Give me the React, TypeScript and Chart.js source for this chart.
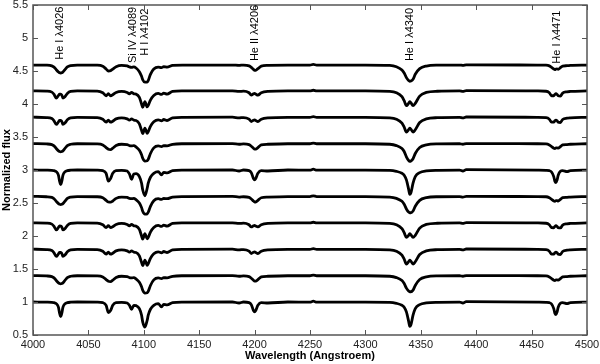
import React, { useEffect, useRef } from "react";
import { Chart, registerables } from "chart.js";

Chart.register(...registerables);

// Wavelength grid (Angstroem)
const wavelengths = [
  4000, 4012, 4017, 4019, 4021, 4023, 4024, 4025, 4026, 4027, 4029, 4031, 4034, 4040,
  4058, 4063, 4066, 4068, 4070, 4072, 4075, 4080,
  4085, 4087, 4089, 4091, 4093, 4096, 4098, 4099, 4101, 4103, 4104, 4106, 4109, 4113, 4116, 4118, 4121, 4126, 4135,
  4180, 4186, 4190, 4195, 4197, 4199, 4200, 4201, 4203, 4206, 4212, 4230,
  4250, 4253, 4256, 4300,
  4322, 4328, 4333, 4335, 4337, 4339, 4340, 4341, 4343, 4345, 4349, 4355, 4365,
  4385, 4388, 4391, 4455,
  4463, 4466, 4468, 4470, 4471, 4472, 4473, 4474, 4476, 4478, 4482, 4485, 4500,
];

// Vertical offsets of the ten spectra (bottom to top)
const offsets = [0, 0.4, 0.8, 1.2, 1.6, 2.0, 2.4, 2.8, 3.2, 3.6];

// Normalized flux of each spectrum on the grid above
const flux1 = [
  1, 0.997, 0.995, 0.99, 0.975, 0.92, 0.83, 0.78, 0.83, 0.92, 0.975, 0.99, 0.997, 1,
  0.998, 0.99, 0.95, 0.84, 0.87, 0.95, 0.99, 0.995,
  0.985, 0.95, 0.89, 0.95, 0.945, 0.9, 0.8, 0.7, 0.62, 0.72, 0.8, 0.89, 0.95, 0.975, 0.925, 0.965, 0.955, 0.99, 0.998,
  1, 0.985, 1, 0.99, 0.96, 0.87, 0.85, 0.87, 0.95, 0.99, 0.985, 1,
  0.998, 1.012, 0.998, 0.998,
  0.995, 0.98, 0.95, 0.92, 0.85, 0.71, 0.63, 0.65, 0.8, 0.9, 0.96, 0.985, 0.995,
  0.998, 0.985, 1.005, 0.998,
  0.995, 0.99, 0.97, 0.9, 0.83, 0.81, 0.85, 0.92, 0.98, 0.99, 0.975, 0.99, 0.998,
];
const flux2 = [
  1, 0.995, 0.985, 0.965, 0.925, 0.89, 0.88, 0.875, 0.88, 0.89, 0.93, 0.97, 0.99, 0.998,
  0.995, 0.98, 0.94, 0.915, 0.91, 0.93, 0.97, 0.99,
  0.985, 0.97, 0.965, 0.97, 0.95, 0.9, 0.83, 0.78, 0.735, 0.74, 0.76, 0.85, 0.935, 0.965, 0.955, 0.97, 0.965, 0.99, 0.998,
  1, 0.99, 0.995, 0.985, 0.96, 0.93, 0.915, 0.915, 0.94, 0.98, 0.99, 0.998,
  0.998, 1.008, 0.998, 0.998,
  0.99, 0.97, 0.925, 0.88, 0.81, 0.765, 0.755, 0.755, 0.78, 0.85, 0.94, 0.98, 0.995,
  0.998, 0.99, 1, 0.998,
  0.995, 0.98, 0.955, 0.93, 0.925, 0.935, 0.935, 0.93, 0.955, 0.98, 0.985, 0.99, 0.998,
];
const flux3 = [
  1, 0.995, 0.98, 0.945, 0.89, 0.93, 0.95, 0.95, 0.935, 0.89, 0.915, 0.96, 0.99, 0.998,
  0.995, 0.97, 0.925, 0.955, 0.925, 0.94, 0.975, 0.99,
  0.975, 0.955, 0.975, 0.955, 0.95, 0.9, 0.8, 0.75, 0.835, 0.755, 0.78, 0.86, 0.93, 0.96, 0.945, 0.965, 0.95, 0.99, 0.998,
  1, 0.99, 0.995, 0.97, 0.935, 0.955, 0.96, 0.95, 0.935, 0.97, 0.99, 0.998,
  0.998, 1.008, 0.998, 0.998,
  0.99, 0.97, 0.91, 0.85, 0.775, 0.81, 0.835, 0.82, 0.775, 0.81, 0.92, 0.975, 0.993,
  0.998, 0.99, 1.003, 0.998,
  0.993, 0.97, 0.925, 0.925, 0.945, 0.955, 0.945, 0.925, 0.92, 0.965, 0.985, 0.99, 0.998,
];
const flux4 = [
  1, 0.995, 0.98, 0.945, 0.892, 0.93, 0.952, 0.95, 0.935, 0.892, 0.915, 0.96, 0.99, 0.998,
  0.995, 0.97, 0.928, 0.955, 0.928, 0.94, 0.975, 0.99,
  0.975, 0.955, 0.975, 0.955, 0.95, 0.9, 0.8, 0.752, 0.835, 0.758, 0.78, 0.86, 0.93, 0.96, 0.945, 0.965, 0.95, 0.99, 0.998,
  1, 0.99, 0.995, 0.97, 0.937, 0.955, 0.96, 0.95, 0.937, 0.97, 0.99, 0.998,
  0.998, 1.008, 0.998, 0.998,
  0.99, 0.97, 0.91, 0.85, 0.778, 0.81, 0.835, 0.82, 0.778, 0.81, 0.92, 0.975, 0.993,
  0.998, 0.99, 1.003, 0.998,
  0.993, 0.97, 0.927, 0.925, 0.945, 0.955, 0.945, 0.925, 0.922, 0.965, 0.985, 0.99, 0.998,
];
const flux5 = [
  1, 0.995, 0.985, 0.965, 0.925, 0.89, 0.88, 0.875, 0.88, 0.89, 0.93, 0.97, 0.99, 0.998,
  0.995, 0.98, 0.94, 0.915, 0.912, 0.93, 0.97, 0.99,
  0.985, 0.97, 0.965, 0.97, 0.95, 0.9, 0.83, 0.775, 0.73, 0.735, 0.76, 0.85, 0.935, 0.965, 0.955, 0.97, 0.965, 0.99, 0.998,
  1, 0.99, 0.995, 0.985, 0.96, 0.93, 0.915, 0.915, 0.94, 0.98, 0.99, 0.998,
  0.998, 1.008, 0.998, 0.998,
  0.99, 0.97, 0.925, 0.88, 0.81, 0.762, 0.752, 0.752, 0.78, 0.85, 0.94, 0.98, 0.995,
  0.998, 0.99, 1, 0.998,
  0.995, 0.98, 0.955, 0.93, 0.925, 0.935, 0.935, 0.93, 0.955, 0.98, 0.985, 0.99, 0.998,
];
const flux6 = [
  1, 0.997, 0.995, 0.99, 0.975, 0.92, 0.83, 0.78, 0.83, 0.92, 0.975, 0.99, 0.997, 1,
  0.998, 0.99, 0.95, 0.83, 0.87, 0.95, 0.99, 0.995,
  0.985, 0.94, 0.86, 0.94, 0.945, 0.9, 0.8, 0.7, 0.61, 0.72, 0.8, 0.89, 0.95, 0.975, 0.925, 0.965, 0.955, 0.99, 0.998,
  1, 0.985, 1, 0.99, 0.96, 0.87, 0.85, 0.87, 0.95, 0.99, 0.985, 1,
  0.998, 1.012, 0.998, 0.998,
  0.995, 0.98, 0.95, 0.92, 0.85, 0.71, 0.63, 0.65, 0.8, 0.9, 0.96, 0.985, 0.995,
  0.998, 0.985, 1.005, 0.998,
  0.995, 0.99, 0.97, 0.9, 0.83, 0.81, 0.85, 0.92, 0.98, 0.99, 0.975, 0.99, 0.998,
];
const flux7 = [
  1, 0.995, 0.985, 0.965, 0.925, 0.89, 0.88, 0.875, 0.88, 0.89, 0.93, 0.97, 0.99, 0.998,
  0.995, 0.98, 0.94, 0.915, 0.91, 0.93, 0.97, 0.99,
  0.985, 0.97, 0.965, 0.97, 0.95, 0.9, 0.83, 0.78, 0.735, 0.74, 0.76, 0.85, 0.935, 0.965, 0.955, 0.97, 0.965, 0.99, 0.998,
  1, 0.99, 0.995, 0.985, 0.96, 0.93, 0.915, 0.915, 0.94, 0.98, 0.99, 0.998,
  0.998, 1.008, 0.998, 0.998,
  0.99, 0.97, 0.925, 0.88, 0.8, 0.745, 0.73, 0.735, 0.77, 0.85, 0.94, 0.98, 0.995,
  0.998, 0.99, 1, 0.998,
  0.995, 0.98, 0.955, 0.93, 0.925, 0.935, 0.935, 0.93, 0.955, 0.98, 0.985, 0.99, 0.998,
];
const flux8 = [
  1, 0.995, 0.98, 0.945, 0.89, 0.93, 0.95, 0.95, 0.935, 0.89, 0.915, 0.96, 0.99, 0.998,
  0.995, 0.97, 0.925, 0.955, 0.925, 0.94, 0.975, 0.99,
  0.975, 0.955, 0.975, 0.955, 0.95, 0.9, 0.8, 0.75, 0.835, 0.755, 0.78, 0.86, 0.93, 0.96, 0.945, 0.965, 0.95, 0.99, 0.998,
  1, 0.99, 0.995, 0.97, 0.935, 0.955, 0.96, 0.95, 0.935, 0.97, 0.99, 0.998,
  0.998, 1.008, 0.998, 0.998,
  0.99, 0.97, 0.91, 0.85, 0.775, 0.81, 0.835, 0.82, 0.775, 0.81, 0.92, 0.975, 0.993,
  0.998, 0.99, 1.003, 0.998,
  0.993, 0.97, 0.925, 0.925, 0.945, 0.955, 0.945, 0.925, 0.92, 0.965, 0.985, 0.99, 0.998,
];
const flux9 = [
  1, 0.995, 0.98, 0.945, 0.89, 0.93, 0.95, 0.95, 0.935, 0.89, 0.915, 0.96, 0.99, 0.998,
  0.995, 0.97, 0.925, 0.955, 0.925, 0.94, 0.975, 0.99,
  0.975, 0.955, 0.975, 0.955, 0.95, 0.9, 0.8, 0.75, 0.835, 0.755, 0.78, 0.86, 0.93, 0.96, 0.945, 0.965, 0.95, 0.99, 0.998,
  1, 0.99, 0.995, 0.97, 0.935, 0.955, 0.96, 0.95, 0.935, 0.97, 0.99, 0.998,
  0.998, 1.008, 0.998, 0.998,
  0.99, 0.97, 0.91, 0.85, 0.775, 0.81, 0.835, 0.82, 0.775, 0.81, 0.92, 0.975, 0.993,
  0.998, 0.99, 1.003, 0.998,
  0.993, 0.97, 0.925, 0.925, 0.945, 0.955, 0.945, 0.925, 0.92, 0.965, 0.985, 0.99, 0.998,
];
const flux10 = [
  0.99, 0.988, 0.978, 0.958, 0.92, 0.885, 0.873, 0.87, 0.873, 0.885, 0.925, 0.962, 0.982, 0.99,
  0.988, 0.972, 0.93, 0.9, 0.905, 0.93, 0.965, 0.985,
  0.978, 0.962, 0.955, 0.962, 0.945, 0.89, 0.82, 0.77, 0.73, 0.73, 0.755, 0.85, 0.93, 0.96, 0.95, 0.965, 0.96, 0.985, 0.99,
  0.99, 0.985, 0.99, 0.978, 0.955, 0.925, 0.91, 0.91, 0.935, 0.975, 0.985, 0.99,
  0.99, 1.0, 0.99, 0.99,
  0.985, 0.965, 0.915, 0.87, 0.8, 0.755, 0.745, 0.748, 0.775, 0.85, 0.935, 0.975, 0.988,
  0.99, 0.985, 0.993, 0.99,
  0.988, 0.978, 0.955, 0.93, 0.92, 0.93, 0.932, 0.925, 0.95, 0.975, 0.98, 0.985, 0.99,
];

const spectra = [flux1, flux2, flux3, flux4, flux5, flux6, flux7, flux8, flux9, flux10];

// Line identifications
const lineLabels = ["He I λ4026", "Si IV λ4089", "H I λ4102", "He II λ4206", "He I λ4340", "He I λ4471"];
const lineLabelX = [4024.5, 4090, 4101.5, 4200, 4340, 4472.5];
const lineLabelY = [4.67, 4.62, 4.73, 4.65, 4.65, 4.61];

const xMin = 4000;
const xMax = 4500;
const xStep = 50;
const yMin = 0.5;
const yMax = 5.5;
const yStep = 0.5;

const FONT = '"Liberation Sans", Arial, Helvetica, sans-serif';

const framePlugin = {
  id: "frame",
  afterDraw(chart: any) {
    const { ctx, chartArea: a, scales } = chart;
    const xs = scales.x;
    const ys = scales.y;
    ctx.save();
    ctx.strokeStyle = "#555";
    ctx.lineWidth = 1.5;
    ctx.strokeRect(a.left, a.top, a.right - a.left, a.bottom - a.top);
    ctx.beginPath();
    xs.ticks.forEach((t: any) => {
      const p = Math.round(xs.getPixelForValue(t.value)) + 0.5;
      ctx.moveTo(p, a.bottom);
      ctx.lineTo(p, a.bottom - 5);
      ctx.moveTo(p, a.top);
      ctx.lineTo(p, a.top + 5);
    });
    ys.ticks.forEach((t: any) => {
      const p = Math.round(ys.getPixelForValue(t.value)) + 0.5;
      ctx.moveTo(a.left, p);
      ctx.lineTo(a.left + 5, p);
      ctx.moveTo(a.right, p);
      ctx.lineTo(a.right - 5, p);
    });
    ctx.lineWidth = 1;
    ctx.stroke();

    ctx.fillStyle = "#000";
    ctx.font = `11px ${FONT}`;
    ctx.textAlign = "left";
    ctx.textBaseline = "middle";
    lineLabels.forEach((lab, i) => {
      const px = xs.getPixelForValue(lineLabelX[i]);
      const py = ys.getPixelForValue(lineLabelY[i]);
      ctx.save();
      ctx.translate(px, py);
      ctx.rotate(-Math.PI / 2);
      ctx.fillText(lab, 0, 0);
      ctx.restore();
    });
    ctx.restore();
  },
};

export default function App() {
  const ref = useRef<HTMLCanvasElement | null>(null);

  useEffect(() => {
    document.body.style.margin = "0";
    const canvas = ref.current;
    if (!canvas) return;
    const datasets = spectra.map((f, k) => ({
      label: `spectrum ${k + 1}`,
      data: wavelengths.map((w, i) => ({ x: w, y: f[i] + offsets[k] })),
      borderColor: "#000",
      borderWidth: 2.8,
      pointRadius: 0,
      fill: false,
      cubicInterpolationMode: "monotone" as const,
      borderJoinStyle: "round" as const,
      borderCapStyle: "round" as const,
    }));
    const chart = new Chart(canvas, {
      type: "line",
      data: { datasets },
      options: {
        animation: false,
        responsive: false,
        layout: { padding: { top: 5, right: 13, bottom: 0, left: 0 } },
        plugins: { legend: { display: false }, tooltip: { enabled: false } },
        scales: {
          x: {
            type: "linear",
            min: xMin,
            max: xMax,
            grid: { display: false, drawTicks: false },
            border: { display: false },
            ticks: {
              stepSize: xStep,
              padding: 3,
              color: "#222",
              font: { family: FONT, size: 11 },
              maxRotation: 0,
              callback: (v: any) => String(v),
            },
            title: {
              display: true,
              text: "Wavelength (Angstroem)",
              color: "#000",
              font: { family: FONT, size: 11, weight: "bold" },
              padding: { top: 0, bottom: 1 },
            },
            afterFit: (s: any) => {
              s.height = 29;
              s.paddingLeft = 0;
              s.paddingRight = 0;
              s.paddingTop = 0;
              s.paddingBottom = 0;
            },
          },
          y: {
            type: "linear",
            min: yMin,
            max: yMax,
            grid: { display: false, drawTicks: false },
            border: { display: false },
            ticks: {
              stepSize: yStep,
              padding: 5,
              color: "#222",
              font: { family: FONT, size: 11 },
              callback: (v: any) => String(v),
            },
            title: {
              display: true,
              text: "Normalized flux",
              color: "#000",
              font: { family: FONT, size: 11, weight: "bold" },
              padding: { top: 0, bottom: 0 },
            },
            afterFit: (s: any) => {
              s.width = 33;
              s.paddingLeft = 0;
              s.paddingRight = 0;
              s.paddingTop = 0;
              s.paddingBottom = 0;
            },
          },
        },
      },
      plugins: [framePlugin],
    });
    return () => chart.destroy();
  }, []);

  return (
    <div style={{ width: 600, height: 364 }}>
      <canvas ref={ref} width={600} height={364} />
    </div>
  );
}
